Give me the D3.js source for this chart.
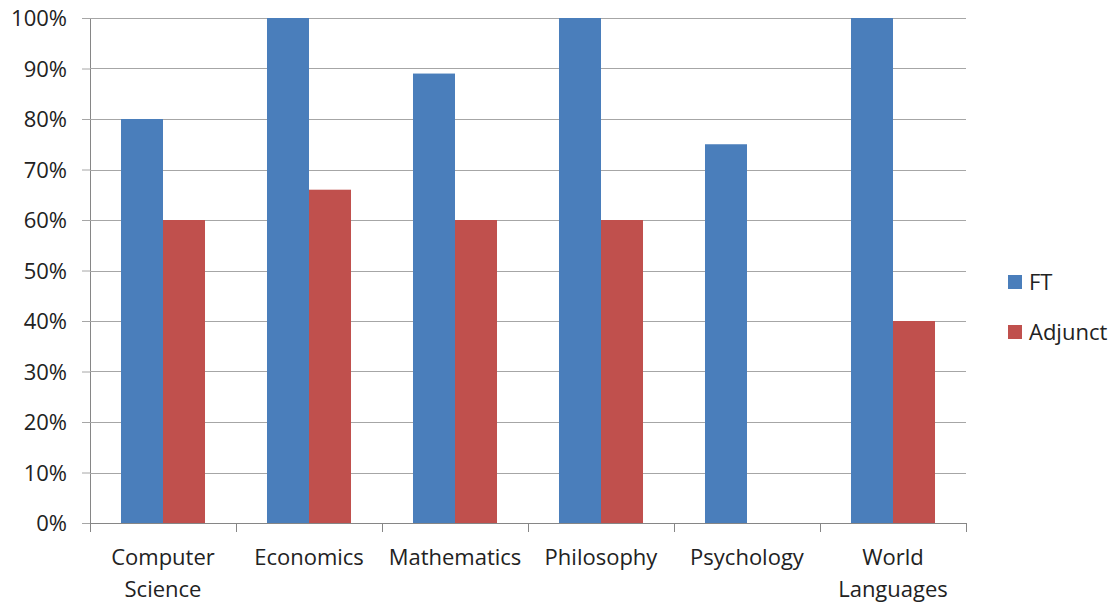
<!DOCTYPE html>
<html>
<head>
<meta charset="utf-8">
<script src="https://cdn.jsdelivr.net/npm/d3@7"></script>
<style>
  html, body { margin: 0; padding: 0; background: #fff; }
  svg { display: block; font-family: "Open Sans", "Liberation Sans", sans-serif; }
</style>
</head>
<body>
<svg id="chart" width="1120" height="606"></svg>
<script>
// Share of courses by department, full-time vs adjunct faculty
const categories = [["Computer", "Science"], ["Economics"], ["Mathematics"], ["Philosophy"], ["Psychology"], ["World", "Languages"]];
const seriesNames = ["FT", "Adjunct"];
const ftValues = [80, 100, 89, 100, 75, 100];
const adjunctValues = [60, 66, 60, 60, 0, 40];
const yTicks = [0, 10, 20, 30, 40, 50, 60, 70, 80, 90, 100];
const colors = ["#4a7ebb", "#c0504d"];

const fontFamily = '"Open Sans", "Liberation Sans", sans-serif';
const svg = d3.select("#chart");
const plotLeft = 90, plotRight = 966, plotTop = 18, plotBottom = 523;

const keys = categories.map((c, i) => i);
const x0 = d3.scaleBand().domain(keys).range([plotLeft, plotRight]).padding(0);
const x1 = d3.scaleBand().domain(seriesNames).range([0, x0.bandwidth()]).paddingInner(0).paddingOuter(0.738);
const y = d3.scaleLinear().domain([0, 100]).range([plotBottom, plotTop]);

// Horizontal gridlines with short tick marks left of the axis
const yAxis = d3.axisLeft(y).tickValues(yTicks).tickSize(8).tickFormat(d => d + "%");
const gy = svg.append("g").attr("transform", `translate(${plotLeft},0)`).call(yAxis)
  .attr("font-family", fontFamily);
gy.select(".domain").attr("stroke", "#868686");
gy.selectAll(".tick line").attr("stroke", "#a6a6a6");
gy.selectAll(".tick text").attr("font-size", 22).attr("fill", "#222").attr("x", -23).attr("dy", "0.35em");
svg.append("g").selectAll("line").data(yTicks.filter(d => d > 0)).join("line")
  .attr("x1", plotLeft).attr("x2", plotRight)
  .attr("y1", d => Math.round(y(d)) + 0.5).attr("y2", d => Math.round(y(d)) + 0.5)
  .attr("stroke", "#a6a6a6").attr("stroke-width", 1);

// Bars
const rows = keys.map(i => ({ i, values: [ftValues[i], adjunctValues[i]] }));
svg.append("g").selectAll("g").data(rows).join("g")
  .attr("transform", d => `translate(${x0(d.i)},0)`)
  .selectAll("rect").data(d => d.values.map((v, k) => ({ k, v })).filter(e => e.v > 0)).join("rect")
  .attr("x", d => x1(seriesNames[d.k]))
  .attr("width", x1.bandwidth())
  .attr("y", d => y(d.v))
  .attr("height", d => y(0) - y(d.v))
  .attr("fill", d => colors[d.k]);

// Category axis
const gx = svg.append("g").attr("transform", `translate(0,${plotBottom})`);
gx.append("line").attr("x1", plotLeft).attr("x2", plotRight).attr("y1", 0.5).attr("y2", 0.5).attr("stroke", "#868686");
const boundaries = keys.map(i => x0(i)).concat([plotRight]);
gx.selectAll("line.tk").data(boundaries).join("line").attr("class", "tk")
  .attr("x1", d => Math.round(d) + 0.5).attr("x2", d => Math.round(d) + 0.5)
  .attr("y1", 0).attr("y2", 9).attr("stroke", "#868686");
gx.selectAll("text").data(rows).join("text")
  .attr("x", d => x0(d.i) + x0.bandwidth() / 2)
  .attr("y", 42)
  .attr("text-anchor", "middle").attr("font-size", 22).attr("fill", "#222")
  .selectAll("tspan").data(d => categories[d.i]).join("tspan")
  .attr("x", function() { return d3.select(this.parentNode).attr("x"); })
  .attr("dy", (d, j) => j === 0 ? 0 : 32)
  .text(d => d);

// Legend
const legend = svg.append("g").attr("transform", "translate(1008,275)");
const li = legend.selectAll("g").data(seriesNames).join("g")
  .attr("transform", (d, i) => `translate(0,${i * 50})`);
li.append("rect").attr("width", 14).attr("height", 14).attr("fill", (d, i) => colors[i]);
li.append("text").attr("x", 21).attr("y", 7).attr("dy", "0.35em")
  .attr("font-size", 22).attr("fill", "#222").text(d => d);
</script>
</body>
</html>
